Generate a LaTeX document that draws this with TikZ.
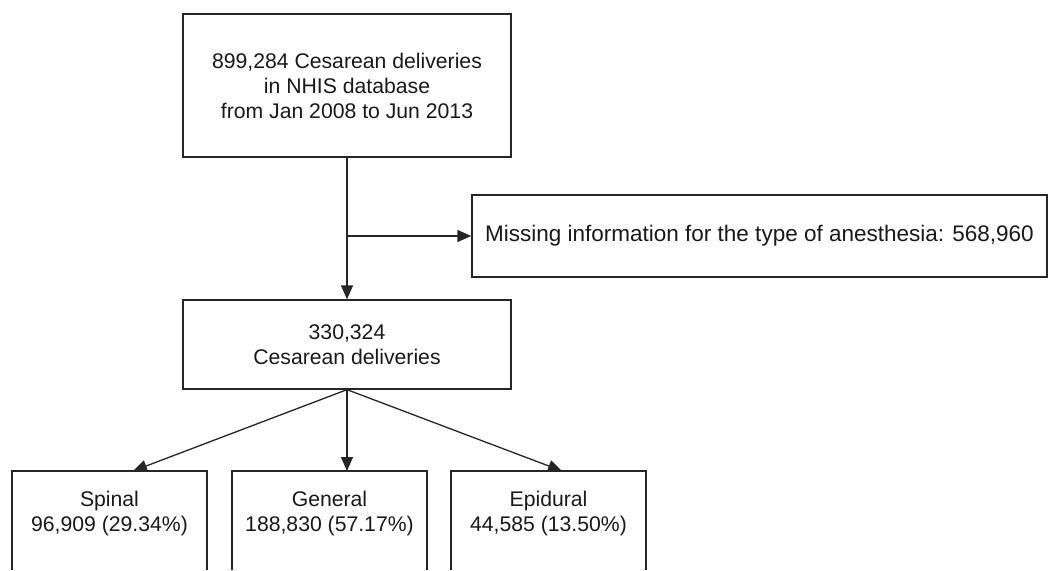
\documentclass[tikz,border=0pt]{standalone}
\usepackage{fontspec}
\setmainfont{Liberation Sans}
\usetikzlibrary{arrows.meta}
\begin{document}
\begin{tikzpicture}[x=1pt,y=-1pt,
  box/.style={draw=black!85, line width=1.3pt, inner sep=0pt, align=center, text=black!90, font=\fontsize{21.2}{25}\selectfont},
  lbl/.style={inner sep=0pt, align=center, text=black!90, font=\fontsize{21.2}{25}\selectfont},
  outline/.style={draw=black!85, line width=1.3pt},
  conn/.style={draw=black!85, line width=1.3pt, -{Triangle[length=14pt,width=12pt]}}]
\useasboundingbox (0,0) rectangle (1049,570);
\node[box, minimum width=328pt, minimum height=143pt] (top) at (347,85.5) {899,284 Cesarean deliveries\\in NHIS database\\from Jan 2008 to Jun 2013};
\node[box, minimum width=575pt, minimum height=82pt, font=\fontsize{22.5}{25}\selectfont] (miss) at (759.5,236) {Missing information for the type of anesthesia: 568,960};
\node[box, minimum width=328pt, minimum height=89pt] (mid) at (347,344.5) {330,324\\Cesarean deliveries};
% bottom boxes (cut off at the lower edge)
\coordinate (spTL) at (12,471);
\coordinate (spTR) at (207,471);
\coordinate (geTL) at (232,471);
\coordinate (geTR) at (427,471);
\coordinate (epTL) at (451,471);
\coordinate (epTR) at (646,471);
\draw[outline] (spTL |- 0,570) -- (spTL) -- (spTR) -- (spTR |- 0,570);
\draw[outline] (geTL |- 0,570) -- (geTL) -- (geTR) -- (geTR |- 0,570);
\draw[outline] (epTL |- 0,570) -- (epTL) -- (epTR) -- (epTR |- 0,570);
\node[lbl] (spinal) at (109.5,514) {Spinal\\96,909 (29.34\%)};
\node[lbl] (general) at (329.5,514) {General\\188,830 (57.17\%)};
\node[lbl] (epidural) at (548.5,514) {Epidural\\44,585 (13.50\%)};
\coordinate (spTip) at (133,471);
\coordinate (geTip) at (347,471);
\coordinate (epTip) at (562,471);
% connectors
\draw[conn] (top.south) -- (mid.north);
\coordinate (branch) at (top.south |- miss.west);
\draw[conn] (branch) -- (miss.west);
\draw[conn] (mid.south) -- (spTip);
\draw[conn] (mid.south) -- (geTip);
\draw[conn] (mid.south) -- (epTip);
\end{tikzpicture}
\end{document}
